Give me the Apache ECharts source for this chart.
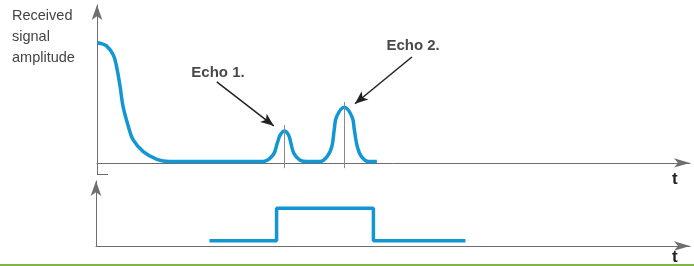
<!DOCTYPE html>
<html>
<head>
<meta charset="UTF-8">
<title>Echo signal</title>
<script src="https://cdn.jsdelivr.net/npm/echarts@6/dist/echarts.min.js"></script>
<style>
  html, body { margin: 0; padding: 0; background: #fff; }
</style>
</head>
<body>
<div id="main" style="width: 694px;height:266px;"></div>
<script type="text/javascript">

// received signal: [t, amplitude]  (t from 0 to 100, amplitude 0..100)
var signalT = [0.05, 0.5, 1.6, 2.75, 3.3, 3.9, 4.4, 5.3, 6.1, 7.8, 10.1, 12.2, 20, 28.0,
               29.7, 30.4, 30.9, 31.6, 32.3, 32.7, 33.2, 34.2, 35.4, 37.6,
               38.8, 39.6, 40.0, 40.4, 41.7, 43.0, 43.4, 43.9, 44.6, 45.8, 47.2];
var signalA = [76.1, 75.8, 74.1, 68.4, 61, 48.3, 35.6, 23, 14.6, 7.2, 2.3, 0.9, 0.9, 0.9,
               5.1, 12.5, 17.7, 20.3, 17.7, 12.5, 6.1, 1.9, 0.9, 0.9,
               4.0, 10.3, 20.9, 29.3, 35.3, 29.3, 20.9, 10.3, 4.0, 0.9, 0.9];

// transmit gate pulse: [t, level]
var pulseT = [19.1, 30.4, 30.4, 46.7, 46.7, 62.2];
var pulseA = [0.8, 0.8, 5.8, 5.8, 0.8, 0.8];

// echo peaks (t of marker line, top of marker line)
var echoNames = ['Echo 1.', 'Echo 2.'];
var echoT = [31.6, 41.7];
var echoTop = [24, 38.6];
// callout arrows: label position and arrow tip
var labelT = [20.4, 53.3];
var labelA = [57, 74];
var arrowFromT = [20.2, 53.1];
var arrowFromA = [51.3, 67.1];
var arrowToT = [29.8, 43.5];
var arrowToA = [23.5, 37.5];

var blue = '#1296d4';
var axisColor = '#6e6e6e';

function zip(a, b) {
  var out = [];
  for (var i = 0; i < a.length; i++) out.push([a[i], b[i]]);
  return out;
}

var myChart = echarts.init(document.getElementById('main'));

var arrowLines = [];
var echoLabels = [];
var peakLines = [];
for (var i = 0; i < echoNames.length; i++) {
  arrowLines.push([{ coord: [arrowFromT[i], arrowFromA[i]] }, { coord: [arrowToT[i], arrowToA[i]] }]);
  echoLabels.push({ value: [labelT[i], labelA[i]], name: echoNames[i] });
  peakLines.push([{ coord: [echoT[i], -3.3] }, { coord: [echoT[i], echoTop[i]] }]);
}

var axisLineCommon = {
  show: true,
  symbol: ['none', 'arrow'],
  lineStyle: { color: axisColor, width: 1 }
};

var option = {
  animation: false,
  grid: [
    { left: 97, right: 4, top: 5, bottom: 92 },
    { left: 96, right: 4, top: 181, bottom: 20 }
  ],
  xAxis: [
    {
      gridIndex: 0, type: 'value', min: 0, max: 100,
      axisLine: Object.assign({}, axisLineCommon, { symbolSize: [7, 16], onZero: true }),
      axisTick: { show: false }, axisLabel: { show: false }, splitLine: { show: false }
    },
    {
      gridIndex: 1, type: 'value', min: 0, max: 100,
      axisLine: Object.assign({}, axisLineCommon, { symbolSize: [7, 16] }),
      axisTick: { show: false }, axisLabel: { show: false }, splitLine: { show: false }
    }
  ],
  yAxis: [
    {
      gridIndex: 0, type: 'value', min: -7, max: 100,
      axisLine: Object.assign({}, axisLineCommon, { symbolSize: [8, 15] }),
      axisTick: { show: false }, axisLabel: { show: false }, splitLine: { show: false }
    },
    {
      gridIndex: 1, type: 'value', min: 0, max: 10,
      axisLine: Object.assign({}, axisLineCommon, { symbolSize: [8, 15] }),
      axisTick: { show: false }, axisLabel: { show: false }, splitLine: { show: false }
    }
  ],
  series: [
    {
      type: 'line', xAxisIndex: 0, yAxisIndex: 0,
      data: zip(signalT, signalA),
      smooth: 0.4,
      showSymbol: false,
      lineStyle: { color: blue, width: 3.5 },
      markLine: {
        silent: true,
        symbol: ['none', 'none'],
        label: { show: false },
        lineStyle: { color: '#8a8a8a', width: 1, type: 'solid' },
        data: peakLines
      },
      z: 3
    },
    {
      type: 'line', xAxisIndex: 0, yAxisIndex: 0,
      data: [],
      markLine: {
        silent: true,
        symbol: ['none', 'arrow'],
        symbolSize: [8, 13],
        label: { show: false },
        lineStyle: { color: '#222', width: 1.5, type: 'solid' },
        data: arrowLines
      }
    },
    {
      type: 'scatter', xAxisIndex: 0, yAxisIndex: 0,
      data: echoLabels,
      symbolSize: 0,
      itemStyle: { color: '#1a1a1a' },
      label: {
        show: true,
        position: 'inside',
        formatter: '{b}',
        color: '#1a1a1a',
        textBorderWidth: 0,
        textBorderColor: 'transparent',
        fontFamily: '"Liberation Sans Narrow", "Liberation Sans", Arial, sans-serif',
        fontWeight: 'bold',
        fontSize: 15
      }
    },
    {
      type: 'line', xAxisIndex: 1, yAxisIndex: 1,
      data: zip(pulseT, pulseA),
      showSymbol: false,
      lineStyle: { color: blue, width: 3.5 }
    }
  ],
  graphic: [
    {
      type: 'text', left: 12, top: 5,
      style: {
        text: 'Received\nsignal\namplitude',
        font: '14.5px "Liberation Sans", Arial, sans-serif',
        lineHeight: 21,
        fill: '#444'
      }
    },
    {
      type: 'line',
      shape: { x1: 97, y1: 174.5, x2: 108, y2: 174.5 },
      style: { stroke: axisColor, lineWidth: 1 }
    },
    {
      type: 'text', left: 672, top: 171,
      style: { text: 't', font: 'bold 17px "Liberation Sans", Arial, sans-serif', fill: '#222' }
    },
    {
      type: 'text', left: 672, top: 249,
      style: { text: 't', font: 'bold 17px "Liberation Sans", Arial, sans-serif', fill: '#222' }
    },
    {
      type: 'rect',
      shape: { x: 0, y: 264, width: 694, height: 2 },
      style: { fill: '#7cb548' }
    }
  ]
};

myChart.setOption(option);
</script>
</body>
</html>
